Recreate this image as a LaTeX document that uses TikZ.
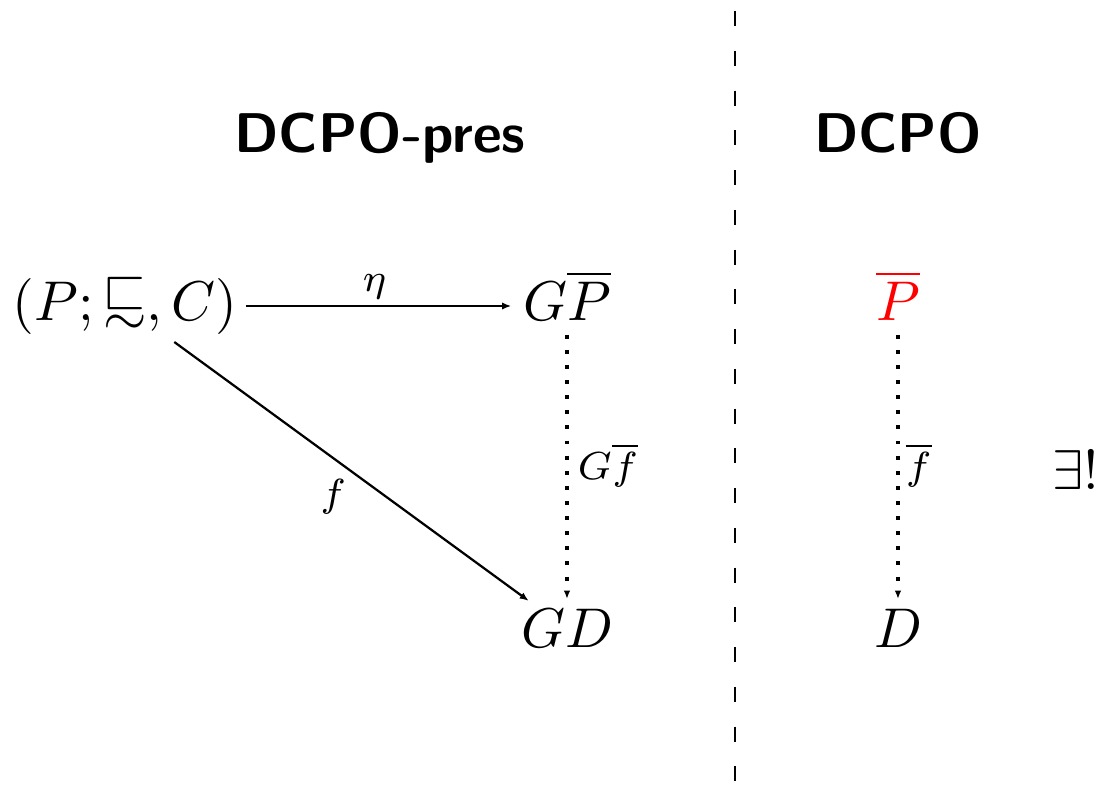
\documentclass[tikz,border=0pt]{standalone}
\usepackage{amssymb}
\usetikzlibrary{arrows.meta}
\newcommand{\sqsimrel}{\mathrel{\vcenter{\offinterlineskip\halign{\hfil$##$\hfil\cr\sqsubset\cr\noalign{\kern1pt}\sim\cr}}}}
\begin{document}
\begin{tikzpicture}[x=0.1786pt,y=-0.1786pt,
  obj/.style={anchor=base},
  title/.style={anchor=base,font=\sffamily\bfseries},
  lab/.style={inner sep=1pt},
  arr/.style={-{Latex[length=1.6pt,width=1.3pt]}},
  dots/.style={-{Latex[length=1.5pt,width=1.2pt]},line width=0.7pt,dash pattern=on 0.7pt off 2pt,
    shorten <=-0.9pt,shorten >=-1.6pt}]
\useasboundingbox (0,0) rectangle (1102,790);
\node[title] (t1) at (380,152) {DCPO-pres};
\node[title] (t2) at (898,152) {DCPO};
\node[obj] (A) at (125,320) {$(P;\sqsimrel,C)$};
\node[obj] (B) at (567,320) {$G\overline{P}$};
\node[obj] (C) at (567,648) {$GD$};
\node[obj,text=red] (E) at (898,320) {$\overline{P}$};
\node[obj] (F) at (898,648) {$D$};
\draw[arr,shorten <=-2pt,shorten >=-1.4pt] (A.east) -- node[lab,above,xshift=-1pt] {$\scriptstyle\eta$} (A.east -| B.west);
\draw[arr,shorten <=-4pt,shorten >=-3.3pt] (A) -- node[lab,below left] {$\scriptstyle f$} (C);
\draw[dots] (B) -- node[lab,right,xshift=0.5pt] {$\scriptstyle G\overline{f}$} (C);
\draw[dots] (E) -- node[lab,right] {$\scriptstyle\overline{f}$} (F);
\node (U) at (1076,470) {$\exists!$};
\coordinate (L1) at (735,11);
\coordinate (L2) at (735,790);
\draw[dash pattern=on 2.7pt off 4.4pt] (L1) -- (L2);
\end{tikzpicture}
\end{document}
